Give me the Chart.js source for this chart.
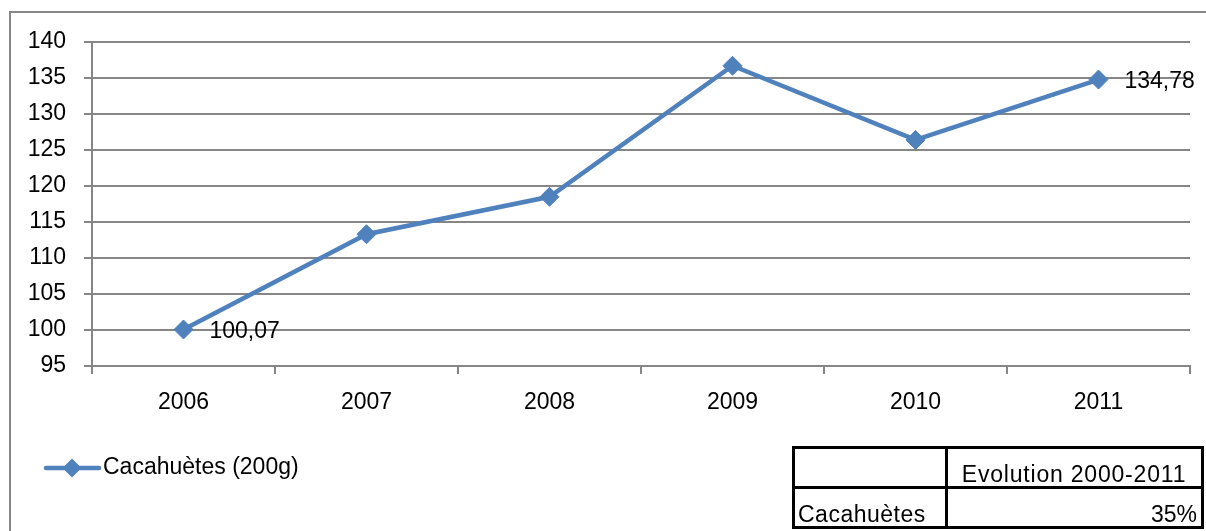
<!DOCTYPE html>
<html>
<head>
<meta charset="utf-8">
<script src="https://cdn.jsdelivr.net/npm/chart.js@4/dist/chart.umd.min.js"></script>
<style>
  body { margin: 0; background: #fff; font-family: 'Liberation Sans', Arial, sans-serif; }
  #wrap { position: relative; width: 1206px; height: 531px; overflow: hidden; }
  #frame { position: absolute; left: 9px; top: 11px; width: 1400px; height: 700px; border: 2px solid #878787; }
  #chart { position: absolute; left: 0; top: 0; }
  #evo { position: absolute; left: 792px; top: 446px; border-collapse: collapse; font-size: 23px; color: #000; }
  #evo td { border: 3px solid #000; height: 37px; padding: 0 4px 0 3px; vertical-align: bottom; line-height: 24px; }
  #evo td.c1 { width: 143px; letter-spacing: 0.5px; }
  #evo td.c2 { width: 246px; }
  #evo .right { text-align: right; }
  #evo .head { text-align: center; letter-spacing: 0.8px; }
</style>
</head>
<body>
<div id="wrap">
  <div id="frame"></div>
  <canvas id="chart" width="1206" height="531"></canvas>
  <table id="evo"></table>
</div>
<script>
// data
const years = ['2006', '2007', '2008', '2009', '2010', '2011'];
const prices = [100.07, 113.3, 118.5, 136.7, 126.4, 134.78];
const labelledPoints = [0, 5];
const seriesName = 'Cacahuètes (200g)';
const tableHeader = ['', 'Evolution 2000-2011'];
const tableRow = ['Cacahuètes', '35%'];

const lineColor = '#4f81bd';
const gridColor = '#868686';
const font = { family: "'Liberation Sans', Arial, sans-serif", size: 23 };

// table under the chart
const table = document.getElementById('evo');
table.innerHTML =
  '<tr><td class="c1">' + tableHeader[0] + '</td><td class="c2 head">' + tableHeader[1] + '</td></tr>' +
  '<tr><td class="c1">' + tableRow[0] + '</td><td class="c2 right">' + tableRow[1] + '</td></tr>';

// value labels next to the first and last points
const valueLabels = {
  id: 'valueLabels',
  afterDatasetsDraw(chart) {
    const ctx = chart.ctx;
    const meta = chart.getDatasetMeta(0);
    ctx.save();
    ctx.font = font.size + 'px ' + font.family;
    ctx.fillStyle = '#000';
    ctx.textBaseline = 'middle';
    ctx.textAlign = 'left';
    labelledPoints.forEach(i => {
      const pt = meta.data[i];
      const txt = prices[i].toFixed(2).replace('.', ',');
      ctx.fillText(txt, pt.x + 26, pt.y + 2);
    });
    ctx.restore();
  }
};

// legend drawn like Excel: line with marker, then name
const lineLegend = {
  id: 'lineLegend',
  afterDraw(chart) {
    const ctx = chart.ctx;
    const y = 468;
    ctx.save();
    ctx.strokeStyle = lineColor;
    ctx.lineWidth = 4.5;
    ctx.lineCap = 'round';
    ctx.beginPath();
    ctx.moveTo(46, y);
    ctx.lineTo(99, y);
    ctx.stroke();
    ctx.fillStyle = lineColor;
    ctx.beginPath();
    ctx.moveTo(72, y - 9.5); ctx.lineTo(81.5, y); ctx.lineTo(72, y + 9.5); ctx.lineTo(62.5, y);
    ctx.closePath();
    ctx.fill();
    ctx.font = font.size + 'px ' + font.family;
    ctx.fillStyle = '#000';
    ctx.textBaseline = 'middle';
    ctx.fillText(seriesName, 103, y);
    ctx.restore();
  }
};

new Chart(document.getElementById('chart'), {
  type: 'line',
  data: {
    labels: years,
    datasets: [{
      label: seriesName,
      data: prices,
      borderColor: lineColor,
      backgroundColor: lineColor,
      borderWidth: 4.5,
      pointStyle: 'rectRot',
      pointRadius: 9.5,
      pointHoverRadius: 9.5,
      pointBorderWidth: 1,
      pointBackgroundColor: lineColor,
      pointBorderColor: lineColor,
      tension: 0
    }]
  },
  options: {
    responsive: false,
    animation: false,
    layout: { padding: { top: 42, right: 16, left: 0, bottom: 0 } },
    plugins: { legend: { display: false }, tooltip: { enabled: false } },
    scales: {
      x: {
        offset: true,
        grid: { offset: true, drawOnChartArea: false, drawTicks: true, tickLength: 8, color: gridColor, lineWidth: 2 },
        border: { color: gridColor, width: 2 },
        ticks: { font: font, color: '#000', padding: 15, maxRotation: 0 },
        afterFit(scale) { scale.height = 531 - 366; }
      },
      y: {
        min: 95,
        max: 140,
        ticks: { stepSize: 5, font: font, color: '#000', padding: 18 },
        grid: { color: gridColor, lineWidth: 2, tickLength: 8 },
        border: { color: gridColor, width: 2 },
        afterFit(scale) { scale.width = 92; }
      }
    }
  },
  plugins: [valueLabels, lineLegend]
});
</script>
</body>
</html>
